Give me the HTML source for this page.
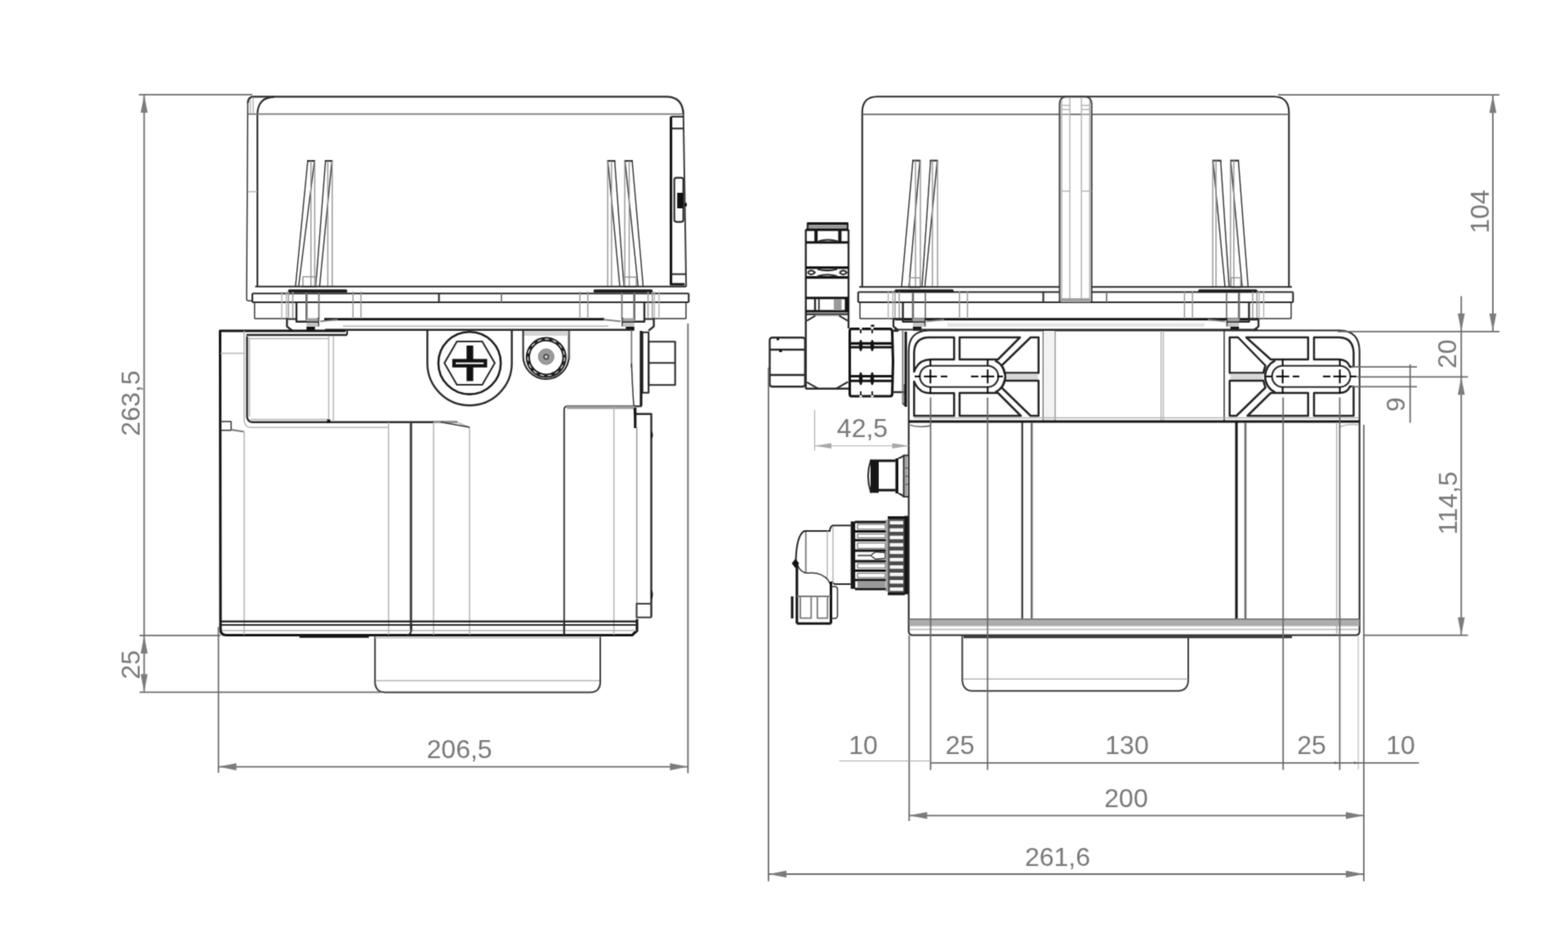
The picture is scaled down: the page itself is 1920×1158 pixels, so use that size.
<!DOCTYPE html>
<html lang="en">
<head>
<meta charset="utf-8">
<title>Dimensional drawing</title>
<style>
html,body{margin:0;padding:0;background:#fff;}
body{width:1920px;height:1158px;overflow:hidden;}
svg{display:block;position:absolute;left:0;top:0;}
line,path,rect,circle,ellipse{stroke-linecap:butt;stroke-linejoin:round;}
.k,.d,.d2,.t,.t2,.m,.m2,.l,.g,.gl,.c{fill:none;}
.k{stroke:#141414;stroke-width:3.1;}
.d{stroke:#2a2a2a;stroke-width:2.1;}
.t{stroke:#333;stroke-width:1.5;}
.t2{stroke:#2c2c2c;stroke-width:1.4;}
.t3{stroke:#3c3c3c;stroke-width:2;fill:none;}
.fg2{fill:#9c9c9c;stroke:none;}
.m3{stroke:#6c6c6c;stroke-width:2.6;fill:none;}
.dp{stroke:#222;stroke-width:2.5;fill:none;}
.kk{stroke:#3a3a3a;stroke-width:4;fill:none;}
.ll{stroke:#d4d4d4;stroke-width:2;fill:none;}
.k2{stroke:#1c1c1c;stroke-width:2.6;fill:none;}
.ring{stroke:#1e1e1e;stroke-width:5.2;fill:none;}
.ringd{stroke:#e8e8e8;stroke-width:1.3;stroke-dasharray:5 4.4;fill:none;}
.d2{stroke:#2a2a2a;stroke-width:2.4;}
.m{stroke:#777;stroke-width:1.8;}
.m2{stroke:#999;stroke-width:1.5;}
.l{stroke:#b4b4b4;stroke-width:1.5;}
.g{stroke:#6a6a6a;stroke-width:1.8;}
.gl{stroke:#a8a8a8;stroke-width:1.1;}
.a{fill:#7c7c7c;stroke:none;}
.a2{fill:#a8a8a8;stroke:none;}
.fk{fill:#111;stroke:none;}
.fk2{fill:#161616;stroke:none;}
.fk3{fill:#4a4a4a;stroke:none;}
.fg3{fill:#c4c4c4;stroke:none;}
.kc{stroke:#1c1c1c;stroke-width:3.8;stroke-linecap:round;fill:none;}
.fb{fill:#f4f4f4;stroke:none;}
.fg{fill:#a2a2a2;stroke:none;}
.fl{fill:#d4d4d4;stroke:none;}
.fw{fill:#fff;stroke:none;}
.c{stroke:#000;stroke-width:2;}
text{font-family:"Liberation Sans",sans-serif;font-size:32px;fill:#787878;}
</style>
</head>
<body>
<svg width="1920" height="1158" viewBox="0 0 1920 1158">
<defs>
<filter id="soft" x="0" y="0" width="1920" height="1158" filterUnits="userSpaceOnUse" color-interpolation-filters="sRGB">
<feConvolveMatrix order="3" kernelMatrix="1 3 1 3 12 3 1 3 1" divisor="28" edgeMode="none" preserveAlpha="false"/>
</filter>
</defs>
<rect class="fw" x="0" y="0" width="1920" height="1158"/>
<g filter="url(#soft)">
<!-- LEFT VIEW - cover -->
<path class="d2" d="M303.4 126 Q303.6 119 310 118.4 L817 118.4 Q836 119 836.8 140"/>
<line class="t3" x1="836.8" y1="140" x2="840.2" y2="351"/>
<path class="t" d="M303.4 126 L302 366 Q302 368.3 305 368.3 L309 368.3"/>
<path class="d" d="M315.2 351 L315.2 140 Q315.5 119 336 118.6"/>
<line class="m" x1="304" y1="139.7" x2="837" y2="139.7"/>
<line class="l" x1="306.5" y1="121" x2="306.5" y2="139"/>
<line class="l" x1="310" y1="119" x2="310" y2="139"/>
<line class="l" x1="303" y1="234.6" x2="315" y2="234.6"/>
<path class="k" d="M821.6 142.8 L821.6 348 L838.3 348"/>
<line class="d" x1="821.6" y1="142.8" x2="837" y2="142.8"/>
<line class="d" x1="821.6" y1="157.3" x2="837" y2="157.3"/>
<line class="d" x1="821.6" y1="335.6" x2="839.5" y2="335.6"/>
<rect class="d" x="825.7" y="217.6" width="11" height="54" rx="2.5"/>
<rect class="fk" x="829.2" y="236" width="7.3" height="19"/>
<rect class="fk" x="838" y="248.5" width="3" height="4"/>
<line class="d" x1="376" y1="197" x2="385.9" y2="197"/>
<line class="t2" x1="376.8" y1="197" x2="361.8" y2="351"/>
<line class="t2" x1="385.1" y1="197" x2="365.6" y2="351"/>
<line class="m2" x1="380.7" y1="197" x2="380.7" y2="351"/>
<line class="m2" x1="385.4" y1="197" x2="385.4" y2="351"/>
<line class="d" x1="397.8" y1="197" x2="407.3" y2="197"/>
<line class="t2" x1="398.6" y1="197" x2="386.6" y2="351"/>
<line class="t2" x1="406.5" y1="197" x2="391.3" y2="351"/>
<line class="m2" x1="401.4" y1="197" x2="401.4" y2="351"/>
<line class="m2" x1="406.8" y1="197" x2="406.8" y2="351"/>
<line class="d" x1="743.5" y1="197" x2="753.5" y2="197"/>
<line class="t2" x1="744.3" y1="197" x2="759" y2="351"/>
<line class="t2" x1="752.7" y1="197" x2="764" y2="351"/>
<line class="m2" x1="744.1" y1="197" x2="744.1" y2="351"/>
<line class="m2" x1="748.8" y1="197" x2="748.8" y2="351"/>
<line class="d" x1="764.5" y1="197" x2="774.9" y2="197"/>
<line class="t2" x1="765.3" y1="197" x2="781.4" y2="351"/>
<line class="t2" x1="774.1" y1="197" x2="787.6" y2="351"/>
<line class="m2" x1="765" y1="197" x2="765" y2="351"/>
<line class="m2" x1="770.5" y1="197" x2="770.5" y2="351"/>
<rect class="m2" x="371" y="338.8" width="15.6" height="12.5"/>
<rect class="m2" x="764.3" y="339.3" width="14.7" height="12"/>
<line class="d" x1="312.5" y1="350.8" x2="840" y2="350.8"/>
<line class="d" x1="309" y1="359.2" x2="843.3" y2="359.2"/>
<line class="d" x1="309" y1="370" x2="843.3" y2="370"/>
<line class="d" x1="309" y1="359.2" x2="309" y2="370"/>
<line class="d" x1="843.3" y1="359.2" x2="843.3" y2="370"/>
<line class="t" x1="311.7" y1="370" x2="311.7" y2="390"/>
<line class="t" x1="840" y1="370" x2="840" y2="390"/>
<line class="t" x1="311.7" y1="390" x2="352" y2="390"/>
<line class="t" x1="799" y1="390" x2="840" y2="390"/>
<line class="k" x1="397" y1="390.8" x2="740" y2="390.8"/>
<line class="d" x1="537.5" y1="359.2" x2="537.5" y2="370"/>
<line class="m" x1="614" y1="359.2" x2="614" y2="370"/>
<line class="kc" x1="354.6" y1="356.2" x2="423.4" y2="356.2"/>
<line class="l" x1="345" y1="357" x2="345" y2="390"/>
<line class="l" x1="350.7" y1="357" x2="350.7" y2="390"/>
<line class="m2" x1="353.3" y1="357" x2="353.3" y2="389"/>
<line class="m2" x1="358.5" y1="357" x2="358.5" y2="389"/>
<line class="m3" x1="375.3" y1="358" x2="375.3" y2="392"/>
<line class="m" x1="390.5" y1="358" x2="390.5" y2="390"/>
<line class="m2" x1="432.3" y1="357" x2="432.3" y2="390"/>
<line class="m2" x1="442" y1="357" x2="442" y2="390"/>
<path class="d2" d="M351.4 389.5 L351.4 399.6 L357.8 404.8"/>
<line class="d" x1="351.4" y1="390.5" x2="363" y2="390.5"/>
<path class="d2" d="M363 371 L363 393.8 L389.6 393.8"/>
<line class="d2" x1="389.6" y1="389" x2="389.6" y2="399.6"/>
<rect class="fg" x="375.3" y="389.5" width="14.3" height="4"/>
<rect class="fg3" x="375.3" y="395.2" width="14.3" height="4.8"/>
<rect class="fk" x="375.3" y="400" width="10.4" height="4.8"/>
<line class="m" x1="392" y1="393.4" x2="413.4" y2="391.2"/>
<line class="kc" x1="797.4" y1="356.2" x2="728.6" y2="356.2"/>
<line class="l" x1="807" y1="357" x2="807" y2="390"/>
<line class="l" x1="801.3" y1="357" x2="801.3" y2="390"/>
<line class="m2" x1="798.7" y1="357" x2="798.7" y2="389"/>
<line class="m2" x1="793.5" y1="357" x2="793.5" y2="389"/>
<line class="m3" x1="776.7" y1="358" x2="776.7" y2="392"/>
<line class="m" x1="761.5" y1="358" x2="761.5" y2="390"/>
<line class="m2" x1="719.7" y1="357" x2="719.7" y2="390"/>
<line class="m2" x1="710" y1="357" x2="710" y2="390"/>
<path class="d2" d="M800.6 389.5 L800.6 399.6 L794.2 404.8"/>
<line class="d" x1="800.6" y1="390.5" x2="789" y2="390.5"/>
<path class="d2" d="M789 371 L789 393.8 L762.4 393.8"/>
<line class="d2" x1="762.4" y1="389" x2="762.4" y2="399.6"/>
<rect class="fg" x="762.4" y="389.5" width="14.3" height="4"/>
<rect class="fg3" x="762.4" y="395.2" width="14.3" height="4.8"/>
<rect class="fk" x="766.3" y="400" width="10.4" height="4.8"/>
<line class="m" x1="760" y1="393.4" x2="738.6" y2="391.2"/>
<line class="d2" x1="398" y1="403.8" x2="773" y2="403.8"/>
<line class="l" x1="420" y1="399.2" x2="745" y2="399.2"/>
<!-- LEFT VIEW - body -->
<path class="k" d="M423 405 L269.5 405 L270 770 Q270 777.5 277 777.5 L774 777.5 L780 772 L780 758"/>
<line class="m2" x1="779.7" y1="523" x2="779.7" y2="758"/>
<line class="d2" x1="301.7" y1="410" x2="425" y2="410"/>
<line class="d" x1="425" y1="404" x2="425" y2="410"/>
<path class="d2" d="M302.5 411.7 L302.5 510 Q303 516.5 309 516.7 L560 516.7"/>
<line class="l" x1="305.5" y1="413" x2="305.5" y2="510"/>
<line class="l" x1="305" y1="414.5" x2="402" y2="414.5"/>
<line class="l" x1="306" y1="513.5" x2="402" y2="513.5"/>
<line class="l" x1="402.5" y1="411.7" x2="402.5" y2="516"/>
<line class="l" x1="408.3" y1="411.7" x2="408.3" y2="516"/>
<rect class="fk" x="400.5" y="513.5" width="4" height="4"/>
<path class="l" d="M299 405 L299 515 Q300 523 307 523.3 L475 523.3"/>
<line class="l" x1="270" y1="432.5" x2="300" y2="432.5"/>
<path class="t" d="M270 516 L283 516 L283 526.7 L270 526.7"/>
<line class="m" x1="283" y1="526" x2="299" y2="528.5"/>
<line class="l" x1="299" y1="528" x2="299" y2="777"/>
<line class="l" x1="475.8" y1="517" x2="475.8" y2="777"/>
<line class="m" x1="502.5" y1="517" x2="502.5" y2="770"/>
<line class="l" x1="530.8" y1="517" x2="530.8" y2="777"/>
<line class="d" x1="503.5" y1="517" x2="503.5" y2="772"/>
<path class="l" d="M531 517 L560 517 L575 523.3 L575 777"/>
<line class="t" x1="540" y1="516.7" x2="575" y2="523"/>
<path class="d2" d="M523.3 404 L523.3 444.5 A51.7 51.7 0 0 0 626.7 444.5 L626.7 404"/>
<circle class="k2" cx="575" cy="444.4" r="38.2"/>
<path class="d" d="M544.2 444.4 L559.5 418 L590.5 418 L605.8 444.4 L590.5 471 L559.5 471 Z"/>
<rect class="fk" x="553.8" y="439.4" width="42.7" height="10.4"/>
<rect class="fk" x="571.3" y="423" width="8.2" height="43.5"/>
<rect class="fw" x="558" y="443.7" width="34.3" height="2"/>
<path class="d" d="M640.6 404 L640.6 436 A28 28 0 0 0 696.6 436 L696.6 404"/>
<line class="m" x1="697.3" y1="405" x2="697.3" y2="440"/>
<rect class="fl" x="642" y="405" width="53.5" height="6"/>
<circle class="ring" cx="668.8" cy="437.6" r="22.4"/>
<circle class="ringd" cx="668.8" cy="437.6" r="22.4"/>
<circle cx="668.8" cy="436.6" r="9.6" style="fill:#9a9a9a;stroke:#8a8a8a;stroke-width:1"/>
<circle cx="668.8" cy="436.8" r="2.8" style="fill:#c8c8c8;stroke:#3a3a3a;stroke-width:1.4"/>
<line class="k" x1="785" y1="405" x2="785" y2="497"/>
<line class="d" x1="777" y1="497.3" x2="785.8" y2="497.3"/>
<line class="m" x1="773.3" y1="404" x2="773.3" y2="450"/>
<path class="t" d="M773.3 445 Q775 490 778.3 523"/>
<rect class="d" x="786.7" y="406.7" width="7.5" height="74"/>
<rect class="d" x="794.2" y="418.3" width="32.5" height="53"/>
<line class="d" x1="794.2" y1="444.2" x2="826.7" y2="444.2"/>
<path class="t3" d="M690.8 777 L690.8 501 Q691 497.5 695 497.3 L777 497.3"/>
<rect class="fg2" x="694" y="497" width="83" height="3.6"/>
<line class="l" x1="751.7" y1="498.3" x2="751.7" y2="777"/>
<path class="d2" d="M778 506.7 L797.5 506.7 L797.5 755.8"/>
<path class="t3" d="M797.5 755.8 L779.5 755.8 L779.5 739 L797.5 739"/>
<path class="fk" d="M797.5 721 Q801.5 728 797.5 735 Z"/>
<path class="fk" d="M797.5 527 Q801.5 532.5 797.5 538 Z"/>
<line class="k" x1="777.8" y1="499" x2="777.8" y2="524"/>
<line class="d2" x1="271" y1="760.8" x2="780" y2="760.8"/>
<line class="d" x1="271" y1="765" x2="780" y2="765"/>
<line class="l" x1="272" y1="771.7" x2="779" y2="771.7"/>
<path class="d" d="M503.5 765 L503.5 772 Q503 777 498 777.5"/>
<line class="d" x1="690.8" y1="760" x2="690.8" y2="777.5"/>
<line class="k" x1="366.7" y1="779.2" x2="451.7" y2="779.2"/>
<path class="t3" d="M459.2 778 L459.2 836 Q460 847 471 847.5 L723 847.5 Q734.5 847 735 836 L735 778"/>
<line class="l" x1="460" y1="833.3" x2="734" y2="833.3"/>
<line class="l" x1="459" y1="780.5" x2="735" y2="780.5"/>
<!-- RIGHT VIEW - cover -->
<path class="d" d="M1055.8 351 L1055.8 137 Q1056 118.6 1074 118.3 L1560 118.3 Q1578 118.6 1578.3 137 L1578.3 351"/>
<line class="m" x1="1056.5" y1="140" x2="1578" y2="140"/>
<path class="t3" d="M1297.5 370 L1297.5 127 Q1298 118.6 1306 118.3 L1328 118.3 Q1336.3 118.6 1336.7 127 L1336.7 370"/>
<line class="l" x1="1310" y1="119" x2="1310" y2="365"/>
<line class="l" x1="1324.2" y1="119" x2="1324.2" y2="365"/>
<line class="l" x1="1300" y1="122" x2="1300" y2="368"/>
<line class="l" x1="1334.3" y1="122" x2="1334.3" y2="368"/>
<line class="l" x1="1298" y1="129" x2="1310" y2="129"/>
<line class="l" x1="1324.2" y1="129" x2="1336.5" y2="129"/>
<line class="l" x1="1298" y1="134" x2="1310" y2="134"/>
<line class="l" x1="1324.2" y1="134" x2="1336.5" y2="134"/>
<line class="l" x1="1298" y1="140" x2="1310" y2="140"/>
<line class="l" x1="1324.2" y1="140" x2="1336.5" y2="140"/>
<line class="l" x1="1298" y1="234" x2="1310" y2="234"/>
<line class="l" x1="1324.2" y1="234" x2="1336.5" y2="234"/>
<line class="d" x1="1117" y1="196.6" x2="1127.2" y2="196.6"/>
<line class="t2" x1="1117.8" y1="196.6" x2="1104" y2="351"/>
<line class="t2" x1="1126.4" y1="196.6" x2="1113" y2="351"/>
<line class="m2" x1="1121" y1="196.6" x2="1121" y2="351"/>
<line class="m2" x1="1127" y1="196.6" x2="1127" y2="351"/>
<line class="d" x1="1138.7" y1="196.6" x2="1148.5" y2="196.6"/>
<line class="t2" x1="1139.5" y1="196.6" x2="1129" y2="351"/>
<line class="t2" x1="1147.7" y1="196.6" x2="1132.5" y2="351"/>
<line class="m2" x1="1141.7" y1="196.6" x2="1141.7" y2="351"/>
<line class="m2" x1="1148" y1="196.6" x2="1148" y2="351"/>
<line class="d" x1="1484.5" y1="196.6" x2="1495.5" y2="196.6"/>
<line class="t2" x1="1485.3" y1="196.6" x2="1500" y2="351"/>
<line class="t2" x1="1494.7" y1="196.6" x2="1505" y2="351"/>
<line class="m2" x1="1485" y1="196.6" x2="1485" y2="351"/>
<line class="m2" x1="1489" y1="196.6" x2="1489" y2="351"/>
<line class="d" x1="1506.2" y1="196.6" x2="1517.2" y2="196.6"/>
<line class="t2" x1="1507" y1="196.6" x2="1521" y2="351"/>
<line class="t2" x1="1516.4" y1="196.6" x2="1528.3" y2="351"/>
<line class="m2" x1="1506.7" y1="196.6" x2="1506.7" y2="351"/>
<line class="m2" x1="1510.8" y1="196.6" x2="1510.8" y2="351"/>
<rect class="m2" x="1114" y="340" width="12.7" height="12"/>
<rect class="m2" x="1507.5" y="340" width="11.7" height="12"/>
<line class="d" x1="1052" y1="351.3" x2="1297" y2="351.3"/>
<line class="d" x1="1337" y1="351.3" x2="1582" y2="351.3"/>
<line class="d" x1="1050.8" y1="357.5" x2="1297" y2="357.5"/>
<line class="d" x1="1337" y1="357.5" x2="1583.3" y2="357.5"/>
<line class="d" x1="1050.8" y1="370" x2="1583.3" y2="370"/>
<line class="d" x1="1050.8" y1="357.5" x2="1050.8" y2="370"/>
<line class="d" x1="1583.3" y1="357.5" x2="1583.3" y2="370"/>
<line class="t" x1="1053" y1="370" x2="1053" y2="390"/>
<line class="t" x1="1581" y1="370" x2="1581" y2="390"/>
<line class="t" x1="1053" y1="390" x2="1096" y2="390"/>
<line class="t" x1="1540" y1="390" x2="1581" y2="390"/>
<line class="k" x1="1096" y1="390.8" x2="1540" y2="390.8"/>
<line class="d" x1="1277.5" y1="357.5" x2="1277.5" y2="370"/>
<line class="m" x1="1355" y1="357.5" x2="1355" y2="370"/>
<rect class="fg" x="1299" y="365" width="36" height="5"/>
<line class="kc" x1="1097.2" y1="356.2" x2="1166" y2="356.2"/>
<line class="l" x1="1087.6" y1="357" x2="1087.6" y2="390"/>
<line class="l" x1="1093.3" y1="357" x2="1093.3" y2="390"/>
<line class="m2" x1="1095.9" y1="357" x2="1095.9" y2="389"/>
<line class="m2" x1="1101.1" y1="357" x2="1101.1" y2="389"/>
<line class="m3" x1="1117.9" y1="358" x2="1117.9" y2="392"/>
<line class="m" x1="1133.1" y1="358" x2="1133.1" y2="390"/>
<line class="m2" x1="1174.9" y1="357" x2="1174.9" y2="390"/>
<line class="m2" x1="1184.6" y1="357" x2="1184.6" y2="390"/>
<path class="d2" d="M1094 389.5 L1094 399.6 L1100.4 404.8"/>
<line class="d" x1="1094" y1="390.5" x2="1105.6" y2="390.5"/>
<path class="d2" d="M1105.6 371 L1105.6 393.8 L1132.2 393.8"/>
<line class="d2" x1="1132.2" y1="389" x2="1132.2" y2="399.6"/>
<rect class="fg" x="1117.9" y="389.5" width="14.3" height="4"/>
<rect class="fg3" x="1117.9" y="395.2" width="14.3" height="4.8"/>
<rect class="fk" x="1117.9" y="400" width="10.4" height="4.8"/>
<line class="m" x1="1134.6" y1="393.4" x2="1156" y2="391.2"/>
<line class="kc" x1="1537.8" y1="356.2" x2="1469" y2="356.2"/>
<line class="l" x1="1547.4" y1="357" x2="1547.4" y2="390"/>
<line class="l" x1="1541.7" y1="357" x2="1541.7" y2="390"/>
<line class="m2" x1="1539.1" y1="357" x2="1539.1" y2="389"/>
<line class="m2" x1="1533.9" y1="357" x2="1533.9" y2="389"/>
<line class="m3" x1="1517.1" y1="358" x2="1517.1" y2="392"/>
<line class="m" x1="1501.9" y1="358" x2="1501.9" y2="390"/>
<line class="m2" x1="1460.1" y1="357" x2="1460.1" y2="390"/>
<line class="m2" x1="1450.4" y1="357" x2="1450.4" y2="390"/>
<path class="d2" d="M1541 389.5 L1541 399.6 L1534.6 404.8"/>
<line class="d" x1="1541" y1="390.5" x2="1529.4" y2="390.5"/>
<path class="d2" d="M1529.4 371 L1529.4 393.8 L1502.8 393.8"/>
<line class="d2" x1="1502.8" y1="389" x2="1502.8" y2="399.6"/>
<rect class="fg" x="1502.8" y="389.5" width="14.3" height="4"/>
<rect class="fg3" x="1502.8" y="395.2" width="14.3" height="4.8"/>
<rect class="fk" x="1506.7" y="400" width="10.4" height="4.8"/>
<line class="m" x1="1500.4" y1="393.4" x2="1479" y2="391.2"/>
<rect x="1160" y="395.5" width="315" height="4.5" style="fill:#e6e6e6"/>
<line class="d" x1="1095" y1="403.5" x2="1540" y2="403.5"/>
<!-- RIGHT VIEW - fittings -->
<rect class="d2" x="989" y="273.2" width="48.8" height="7.6"/>
<line class="k" x1="989" y1="274" x2="1037.8" y2="274"/>
<line class="m" x1="990" y1="277.5" x2="1037" y2="277.5"/>
<line class="d2" x1="986.7" y1="281" x2="986.7" y2="476"/>
<line class="d2" x1="1039" y1="281" x2="1039" y2="402"/>
<line class="k" x1="986.7" y1="281.3" x2="1039" y2="281.3"/>
<line class="k" x1="986.7" y1="296.8" x2="1039" y2="296.8"/>
<rect class="fk2" x="997.2" y="282" width="4" height="14"/>
<rect class="fk2" x="1026.4" y="282" width="4" height="14"/>
<path class="d" d="M1002 295.5 Q1013.5 291.5 1026 295.5"/>
<line class="k" x1="986.7" y1="327.6" x2="1039" y2="327.6"/>
<line class="k" x1="986.7" y1="339.6" x2="1039" y2="339.6"/>
<path class="d" d="M989 333.6 Q993 328.6 998 333.6 Q993 338.6 989 333.6"/>
<path class="d" d="M1028 333.6 Q1032.5 328.6 1037 333.6 Q1032.5 338.6 1028 333.6"/>
<path class="d" d="M1001 329.5 Q1013 332.8 1025 329.5"/>
<path class="d" d="M1001 338 Q1013 334.6 1025 338"/>
<line class="k" x1="986.7" y1="364.8" x2="1039" y2="364.8"/>
<line class="k" x1="986.7" y1="381" x2="1039" y2="381"/>
<line class="d2" x1="986.7" y1="384.6" x2="1039" y2="384.6"/>
<line class="d2" x1="998" y1="366" x2="998" y2="380"/>
<line class="t3" x1="1002.8" y1="366" x2="1002.8" y2="380"/>
<rect x="1021" y="366" width="9.5" height="14" fill="#9a9a9a"/>
<rect class="fk" x="1034.5" y="364.5" width="4.5" height="17"/>
<line class="d" x1="988" y1="392.6" x2="998.5" y2="386.4"/>
<line class="d" x1="1027.4" y1="386.4" x2="1038" y2="392.6"/>
<line class="l" x1="998.5" y1="386.4" x2="1027.4" y2="386.4"/>
<line class="d" x1="988" y1="467.8" x2="1001.7" y2="475.6"/>
<line class="d" x1="1024" y1="475.6" x2="1038.3" y2="467.5"/>
<line class="d2" x1="986.7" y1="475.8" x2="1039" y2="475.8"/>
<rect class="d2" x="942.5" y="413.3" width="43.3" height="60" rx="3"/>
<line class="d2" x1="943" y1="428" x2="985.5" y2="428"/>
<line class="d2" x1="943" y1="459" x2="985.5" y2="459"/>
<rect class="fk" x="951" y="414" width="3" height="2.5"/>
<rect class="fk" x="954" y="428" width="3.5" height="3"/>
<path class="k" d="M1042.5 402.6 L1090 402.6 Q1092.5 403 1092.5 406 L1093.5 443 L1092.5 482 Q1092.5 485 1090 485 L1042.5 485 Q1040.5 485 1040.5 482 L1040.5 406 Q1040.5 402.6 1042.5 402.6"/>
<line class="k" x1="1040.5" y1="420.4" x2="1092.5" y2="420.4"/>
<line class="k" x1="1040.5" y1="425" x2="1092.5" y2="425"/>
<line class="k" x1="1040.5" y1="460.5" x2="1092.5" y2="460.5"/>
<line class="k" x1="1040.5" y1="466.3" x2="1092.5" y2="466.3"/>
<ellipse class="fk" cx="1054" cy="423" rx="2.2" ry="7"/>
<ellipse class="fk" cx="1054" cy="463.5" rx="2.2" ry="8"/>
<rect class="fw" x="1052.5" y="400.5" width="3" height="3"/>
<rect class="fw" x="1052.5" y="483.5" width="3" height="3"/>
<line class="d" x1="1054" y1="403.5" x2="1054" y2="408"/>
<line class="d" x1="1054" y1="479" x2="1054" y2="484"/>
<ellipse class="fk" cx="1068" cy="423" rx="2.2" ry="7"/>
<ellipse class="fk" cx="1068" cy="463.5" rx="2.2" ry="8"/>
<rect class="fw" x="1066.5" y="400.5" width="3" height="3"/>
<rect class="fw" x="1066.5" y="483.5" width="3" height="3"/>
<line class="d" x1="1068" y1="403.5" x2="1068" y2="408"/>
<line class="d" x1="1068" y1="479" x2="1068" y2="484"/>
<rect class="fk" x="1066.5" y="397.5" width="4" height="2.5"/>
<line class="d2" x1="1092.5" y1="480" x2="1108" y2="480"/>
<line class="d2" x1="1092.5" y1="405" x2="1100" y2="405"/>
<line class="m" x1="1105.4" y1="405" x2="1105.4" y2="495"/>
<rect class="fk2" x="1107.6" y="406" width="3" height="92"/>
<path class="t" d="M1107.5 470 L1107.5 496 L1105.5 494"/>
<!-- RIGHT VIEW - body plate -->
<path class="d" d="M1112.7 773 L1112.7 429 Q1113 405 1137 404.5 L1641 404.5 Q1664 405 1664.7 429 L1664.7 773 Q1664.5 777.5 1660 777.5 L1117.5 777.5 Q1113 777.5 1112.7 773"/>
<path class="dp" d="M1119.3 455 L1119.3 432 Q1119.5 413.2 1138 413 L1168.3 413 L1168.3 440 L1141 440 Q1127 439.5 1121 451 Z"/>
<path class="dp" d="M1175 413 L1249 413 L1222 440 L1175 440 Z"/>
<path class="dp" d="M1262 413 L1271.7 413 L1271.7 456.5 L1230 456.5 Q1229 451 1226.5 447.5 Z"/>
<rect x="1231" y="457.5" width="40" height="8" fill="#d8d8d8"/>
<path class="dp" d="M1271.7 466 L1271.7 509 L1262 509 L1226.5 474.5 Q1229 471 1230 466 Z"/>
<path class="dp" d="M1175 481 L1222 481 L1250 509 L1175 509 Z"/>
<path class="dp" d="M1119.3 467 L1121 470.5 Q1127 482 1141 481.3 L1168.3 481.3 L1168.3 509 L1119.3 509 Z"/>
<path class="d" d="M1139.3 447.8 L1209.4 447.8 A13 13 0 0 1 1209.4 473.8 L1139.3 473.8 A13 13 0 0 1 1139.3 447.8 Z"/>
<line class="c" x1="1131.3" y1="460.8" x2="1147.3" y2="460.8"/>
<line class="c" x1="1139.3" y1="452.3" x2="1139.3" y2="469.3"/>
<line class="c" x1="1139.3" y1="439.8" x2="1139.3" y2="447.8"/>
<line class="c" x1="1139.3" y1="473.8" x2="1139.3" y2="481.8"/>
<line class="c" x1="1201.4" y1="460.8" x2="1217.4" y2="460.8"/>
<line class="c" x1="1209.4" y1="452.3" x2="1209.4" y2="469.3"/>
<line class="c" x1="1209.4" y1="439.8" x2="1209.4" y2="447.8"/>
<line class="c" x1="1209.4" y1="473.8" x2="1209.4" y2="481.8"/>
<line class="c" x1="1120" y1="460.8" x2="1127" y2="460.8"/>
<line class="c" x1="1152" y1="460.8" x2="1160" y2="460.8"/>
<line class="c" x1="1189" y1="460.8" x2="1198" y2="460.8"/>
<line class="c" x1="1221" y1="460.8" x2="1228" y2="460.8"/>
<path class="dp" d="M1505.7 413 L1516 413 L1549.5 447.5 Q1548 452 1547 456.5 L1505.7 456.5 Z"/>
<rect x="1506.5" y="457.5" width="40" height="8" fill="#d8d8d8"/>
<path class="dp" d="M1505.7 466 L1547 466 Q1548 470 1549.5 474.5 L1514 509 L1505.7 509 Z"/>
<path class="dp" d="M1526 413 L1601.8 413 L1601.8 440 L1556 440 Z"/>
<path class="dp" d="M1556 481 L1601.8 481 L1601.8 509 L1527.5 509 Z"/>
<path class="dp" d="M1609 413 L1640 413 Q1657 413.5 1657.5 432 L1657.5 449 L1653 449 Q1650 440.5 1640 440 L1609 440 Z"/>
<path class="dp" d="M1609 481 L1640 481 Q1650 481 1653 473 L1657.5 473 L1657.5 509 L1609 509 Z"/>
<path class="d" d="M1570.6 447.8 L1640.6 447.8 A13 13 0 0 1 1640.6 473.8 L1570.6 473.8 A13 13 0 0 1 1570.6 447.8 Z"/>
<line class="c" x1="1562.6" y1="460.8" x2="1578.6" y2="460.8"/>
<line class="c" x1="1570.6" y1="452.3" x2="1570.6" y2="469.3"/>
<line class="c" x1="1570.6" y1="439.8" x2="1570.6" y2="447.8"/>
<line class="c" x1="1570.6" y1="473.8" x2="1570.6" y2="481.8"/>
<line class="c" x1="1632.6" y1="460.8" x2="1648.6" y2="460.8"/>
<line class="c" x1="1640.6" y1="452.3" x2="1640.6" y2="469.3"/>
<line class="c" x1="1640.6" y1="439.8" x2="1640.6" y2="447.8"/>
<line class="c" x1="1640.6" y1="473.8" x2="1640.6" y2="481.8"/>
<path class="dp" d="M1561.5 441.3 A21.5 21.5 0 0 0 1561.5 480.3"/>
<path class="dp" d="M1218.5 441.3 A21.5 21.5 0 0 1 1218.5 480.3"/>
<line class="c" x1="1550" y1="460.8" x2="1557" y2="460.8"/>
<line class="c" x1="1583" y1="460.8" x2="1591" y2="460.8"/>
<line class="c" x1="1620" y1="460.8" x2="1629" y2="460.8"/>
<line class="c" x1="1653" y1="460.8" x2="1661" y2="460.8"/>
<rect x="1654.5" y="450.5" width="9" height="21.5" fill="#fff"/>
<line class="c" x1="1653" y1="460.8" x2="1661" y2="460.8"/>
<line class="m" x1="1277.5" y1="405" x2="1277.5" y2="515"/>
<line class="m" x1="1291.7" y1="405" x2="1291.7" y2="515"/>
<rect x="1278" y="405" width="13.5" height="110" fill="#f3f3f3"/>
<line class="l" x1="1421.7" y1="405" x2="1421.7" y2="515"/>
<line class="l" x1="1424.5" y1="405" x2="1424.5" y2="515"/>
<line class="t" x1="1499" y1="405" x2="1499" y2="515"/>
<line class="k" x1="1113" y1="516" x2="1664.5" y2="516"/>
<line class="l" x1="1119" y1="511.5" x2="1664" y2="511.5"/>
<line class="d" x1="1251.7" y1="517" x2="1251.7" y2="758"/>
<line class="m3" x1="1263.3" y1="517" x2="1263.3" y2="758"/>
<line class="k" x1="1514" y1="517" x2="1514" y2="758"/>
<line class="m3" x1="1525" y1="517" x2="1525" y2="758"/>
<line class="l" x1="1636.7" y1="517" x2="1636.7" y2="777"/>
<path class="m" d="M1113 520 Q1125 524 1140 521"/>
<path class="l" d="M1640 523 Q1650 518 1664 520"/>
<rect x="1113.5" y="757.5" width="551" height="9" fill="#adadad"/>
<line class="m" x1="1113.5" y1="757.8" x2="1664" y2="757.8"/>
<line class="l" x1="1113.5" y1="770.5" x2="1664" y2="770.5"/>
<line class="kk" x1="1180" y1="779.2" x2="1582" y2="779.2"/>
<path class="t3" d="M1178.3 778 L1178.3 833 Q1179 845.5 1191 845.8 L1442 845.8 Q1454.5 845.5 1455 833 L1455 778"/>
<line class="l" x1="1179" y1="831.3" x2="1454.5" y2="831.3"/>
<!-- RIGHT VIEW - connectors -->
<path class="d" d="M1066.5 562.5 Q1059.5 583 1066.5 603.3"/>
<rect class="fk2" x="1066" y="562.5" width="10" height="40.8"/>
<path class="k" d="M1076 564 L1096.7 564 M1076 600 L1096.7 600"/>
<rect class="fk" x="1096.5" y="561" width="3.5" height="43"/>
<path class="d" d="M1100 561 Q1104 560 1106.7 557.5 L1112 557.5 M1100 604 Q1104 605 1106.7 608 L1112 608"/>
<line class="d" x1="1106.7" y1="557.5" x2="1106.7" y2="608"/>
<line class="m" x1="1109.5" y1="558" x2="1109.5" y2="608"/>
<line class="m" x1="1106.7" y1="573" x2="1112" y2="573"/>
<line class="m" x1="1106.7" y1="583" x2="1112" y2="583"/>
<line class="m" x1="1106.7" y1="593" x2="1112" y2="593"/>
<rect class="fk2" x="1041.7" y="638.3" width="5.5" height="82.5"/>
<line class="k" x1="1047" y1="639" x2="1087" y2="639"/>
<line class="k" x1="1047" y1="650.5" x2="1087" y2="650.5"/>
<line class="k" x1="1047" y1="661.3" x2="1087" y2="661.3"/>
<line class="k" x1="1047" y1="674" x2="1087" y2="674"/>
<line class="k" x1="1047" y1="687" x2="1087" y2="687"/>
<line class="k" x1="1047" y1="698.5" x2="1087" y2="698.5"/>
<line class="k" x1="1047" y1="710" x2="1087" y2="710"/>
<line class="k" x1="1047" y1="721" x2="1087" y2="721"/>
<rect x="1050" y="641.8000000000001" width="34" height="5.999999999999977" fill="#fff" stroke="#555" stroke-width="1"/>
<rect x="1050" y="653.7" width="34" height="4.6" fill="#fff" stroke="#555" stroke-width="1"/>
<rect x="1050" y="664.7" width="34" height="6.6" fill="#fff" stroke="#555" stroke-width="1"/>
<rect x="1050" y="689.9000000000001" width="34" height="5.399999999999954" fill="#fff" stroke="#555" stroke-width="1"/>
<rect x="1050" y="701.7" width="34" height="5.399999999999954" fill="#fff" stroke="#555" stroke-width="1"/>
<rect x="1050" y="712" width="34" height="7.5" fill="#9a9a9a"/>
<path class="t" d="M1050 680 L1066 680 L1072 675.5 L1084 676.5 L1084 683.5 L1072 684.5 L1066 680"/>
<rect class="fg" x="1084.5" y="636" width="3.5" height="88"/>
<rect class="fk3" x="1087.5" y="633" width="21" height="94"/>
<rect class="fb" x="1089.5" y="637.6" width="16.5" height="4.4"/>
<rect class="fb" x="1089.5" y="646.65" width="16.5" height="4.4"/>
<rect class="fb" x="1089.5" y="655.7" width="16.5" height="4.4"/>
<rect class="fb" x="1089.5" y="664.75" width="16.5" height="4.4"/>
<rect class="fb" x="1089.5" y="673.8" width="16.5" height="4.4"/>
<rect class="fb" x="1089.5" y="682.85" width="16.5" height="4.4"/>
<rect class="fb" x="1089.5" y="691.9" width="16.5" height="4.4"/>
<rect class="fb" x="1089.5" y="700.95" width="16.5" height="4.4"/>
<rect class="fb" x="1089.5" y="710" width="16.5" height="4.4"/>
<rect class="fb" x="1089.5" y="719.05" width="16.5" height="4.4"/>
<rect class="fk2" x="1107.5" y="631.5" width="4.5" height="96"/>
<line class="k" x1="1087" y1="633.5" x2="1108" y2="633.5"/>
<line class="k" x1="1087" y1="727" x2="1108" y2="727"/>
<path class="d" d="M1041.7 643.3 L1020 643.3 Q1016.7 644 1016 650 L985 650 Q975 655 974.5 688"/>
<path class="d" d="M1041.7 715 L1022 715 L1018 712"/>
<line class="m" x1="986.7" y1="651" x2="986.7" y2="700"/>
<line class="l" x1="1013" y1="650" x2="1013" y2="708"/>
<line class="l" x1="1020" y1="644" x2="1020" y2="714"/>
<path class="t" d="M976 690 Q980 702 990 701.5 Q1005 700 1014 710 L1017 716"/>
<path class="fk" d="M974 684 L978.5 689.5 L974 695.5 L969.5 689.5 Z"/>
<line class="k" x1="975.8" y1="692" x2="975.8" y2="763.3"/>
<line class="k" x1="1017.5" y1="712" x2="1017.5" y2="763.3"/>
<line class="k" x1="975.8" y1="763.3" x2="1017.5" y2="763.3"/>
<rect class="m" x="980" y="730" width="13.3" height="26.7"/>
<rect class="m" x="1000.8" y="730" width="12.5" height="26.7"/>
<line class="m" x1="976" y1="730" x2="1017" y2="730"/>
<rect class="fk" x="968.5" y="730" width="3" height="27"/>
<path class="t" d="M1018 718 L1023 718 Q1025.5 718.5 1025.5 722 L1025.5 753 Q1025.5 757 1022 757 L1018 757"/>
<!-- DIMENSIONS - left view -->
<line class="g" x1="170" y1="115.8" x2="309" y2="115.8"/>
<line class="g" x1="170.8" y1="777.8" x2="270" y2="777.8"/>
<line class="g" x1="170.8" y1="847.3" x2="467" y2="847.3"/>
<line class="g" x1="176.5" y1="116" x2="176.5" y2="847.3"/>
<path class="a" d="M176.5 116 L172.2 138 L180.8 138 Z"/>
<path class="a" d="M176.5 778 L172.2 800 L180.8 800 Z"/>
<path class="a" d="M176.5 847.3 L172.2 825.3 L180.8 825.3 Z"/>
<line class="g" x1="267.5" y1="767.5" x2="267.5" y2="946"/>
<line class="g" x1="842.4" y1="396" x2="842.4" y2="946.6"/>
<line class="g" x1="267.5" y1="938.6" x2="842.4" y2="938.6"/>
<path class="a" d="M267.5 938.6 L289.5 934.3 L289.5 942.9 Z"/>
<path class="a" d="M842.4 938.6 L820.4 934.3 L820.4 942.9 Z"/>
<text x="562.6" y="927.6" text-anchor="middle">206,5</text>
<text x="171.5" y="493.6" text-anchor="middle" transform="rotate(-90 171.5 493.6)">263,5</text>
<text x="171.5" y="813.7" text-anchor="middle" transform="rotate(-90 171.5 813.7)">25</text>
<!-- DIMENSIONS - right view -->
<line class="g" x1="1565" y1="116.2" x2="1836" y2="116.2"/>
<line class="g" x1="1638" y1="405.8" x2="1836" y2="405.8"/>
<line class="g" x1="1828" y1="116.2" x2="1828" y2="405.8"/>
<path class="a" d="M1828 116.2 L1823.7 138.2 L1832.3 138.2 Z"/>
<path class="a" d="M1828 405.8 L1823.7 383.8 L1832.3 383.8 Z"/>
<text x="1822.5" y="259" text-anchor="middle" transform="rotate(-90 1822.5 259)">104</text>
<line class="g" x1="1789.3" y1="362.5" x2="1789.3" y2="778"/>
<path class="a" d="M1789.3 405.8 L1785 383.8 L1793.6 383.8 Z"/>
<path class="a" d="M1789.3 461.3 L1785 483.3 L1793.6 483.3 Z"/>
<path class="a" d="M1789.3 777.7 L1785 755.7 L1793.6 755.7 Z"/>
<line class="g" x1="1661.7" y1="461.3" x2="1797.5" y2="461.3"/>
<line class="g" x1="1670" y1="777.7" x2="1797.5" y2="777.7"/>
<text x="1783.5" y="433.3" text-anchor="middle" transform="rotate(-90 1783.5 433.3)">20</text>
<text x="1783.5" y="616" text-anchor="middle" transform="rotate(-90 1783.5 616)">114,5</text>
<line class="g" x1="1726.7" y1="446" x2="1726.7" y2="517.5"/>
<line class="g" x1="1655" y1="449.2" x2="1735" y2="449.2"/>
<line class="g" x1="1655" y1="473.4" x2="1735" y2="473.4"/>
<text x="1719.5" y="495" text-anchor="middle" transform="rotate(-90 1719.5 495)">9</text>
<line class="g" x1="941" y1="450" x2="941" y2="1078.8"/>
<line class="g" x1="1113.3" y1="778" x2="1113.3" y2="1005"/>
<line class="g" x1="1139.5" y1="486.5" x2="1139.5" y2="942.5"/>
<line class="g" x1="1209.3" y1="486.5" x2="1209.3" y2="942.5"/>
<line class="g" x1="1571.2" y1="486.5" x2="1571.2" y2="942.5"/>
<line class="g" x1="1640.5" y1="486.5" x2="1640.5" y2="942.5"/>
<line class="g" x1="1670" y1="520" x2="1670" y2="1078.8"/>
<line class="ll" x1="1663.2" y1="779" x2="1663.2" y2="942"/>
<path class="a" d="M1640.5 933.8 L1634 932 L1634 935.6 Z"/>
<path class="a" d="M1664 933.8 L1658 932 L1658 935.6 Z"/>
<line class="g" x1="1139.5" y1="933.8" x2="1737.5" y2="933.8"/>
<line class="gl" x1="1027.5" y1="931.5" x2="1139.5" y2="931.5"/>
<line class="g" x1="1113.3" y1="998.3" x2="1670" y2="998.3"/>
<path class="a" d="M1113.3 998.3 L1135.3 994 L1135.3 1002.6 Z"/>
<path class="a" d="M1670 998.3 L1648 994 L1648 1002.6 Z"/>
<line class="g" x1="941" y1="1070" x2="1670" y2="1070"/>
<path class="a" d="M941 1070 L963 1065.7 L963 1074.3 Z"/>
<path class="a" d="M1670 1070 L1648 1065.7 L1648 1074.3 Z"/>
<text x="1057" y="923" text-anchor="middle">10</text>
<text x="1175.6" y="923" text-anchor="middle">25</text>
<text x="1380" y="923" text-anchor="middle">130</text>
<text x="1606" y="923" text-anchor="middle">25</text>
<text x="1715" y="923" text-anchor="middle">10</text>
<text x="1379" y="987.5" text-anchor="middle">200</text>
<text x="1295" y="1060" text-anchor="middle">261,6</text>
<line class="gl" x1="997.5" y1="501.7" x2="997.5" y2="551.7"/>
<line class="gl" x1="997.5" y1="545.8" x2="1113" y2="545.8"/>
<path class="a2" d="M997.5 545.8 L1018 542.6 L1018 549 Z"/>
<path class="a2" d="M1113 545.8 L1092.5 542.6 L1092.5 549 Z"/>
<text x="1056" y="535" text-anchor="middle">42,5</text>
</g>
</svg>
</body>
</html>
